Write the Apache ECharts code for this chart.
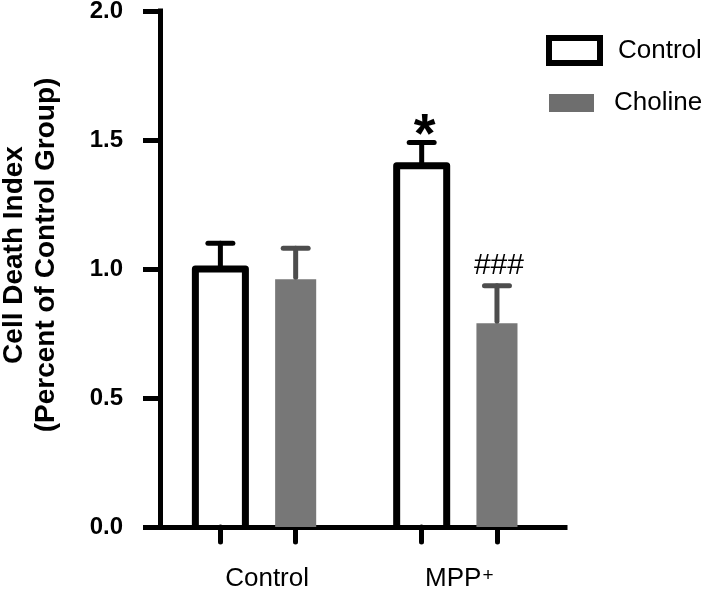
<!DOCTYPE html>
<html>
<head>
<meta charset="utf-8">
<script src="https://cdn.jsdelivr.net/npm/echarts@6/dist/echarts.min.js"></script>
<style>
html,body{margin:0;padding:0;background:#fff;}
#c{width:708px;height:590px;}
</style>
</head>
<body>
<div id="c"></div>
<script>
// ---- data ----
const groups = ['Control', 'MPP⁺'];
const controlValues = [1.00, 1.40];
const controlErrors = [0.10, 0.09];
const cholineValues = [0.96, 0.79];
const cholineErrors = [0.12, 0.145];
const controlMarks = ['', '*'];
const cholineMarks = ['', '###'];
const yTickValues = [0, 0.5, 1.0, 1.5, 2.0];

// ---- layout (axis units: 1 = distance between group centres) ----
const BAR_OFFSET = 0.187;
const CONTROL_BAR_W = 0.2485;
const CHOLINE_BAR_W = 0.204;
const CAP_W = 0.124;
const LABEL_NUDGE = [0.045, 0.0];
const FONT = "'Liberation Sans', Arial, Helvetica, sans-serif";

const xTickValues = [];
groups.forEach((g, i) => { xTickValues.push(i - BAR_OFFSET, i + BAR_OFFSET); });

function errorParts(x, yTop, yErr, capW, color) {
  return [
    { type: 'line', shape: { x1: x, y1: yTop, x2: x, y2: yErr },
      style: { stroke: color, lineWidth: 5, lineCap: 'round' } },
    { type: 'line', shape: { x1: x - capW / 2, y1: yErr, x2: x + capW / 2, y2: yErr },
      style: { stroke: color, lineWidth: 5, lineCap: 'round' } }
  ];
}

function renderControl(params, api) {
  const g = api.value(0), v = api.value(1), e = api.value(2);
  const px = g - BAR_OFFSET;
  const base = api.coord([px, 0]);
  const top = api.coord([px, v]);
  const err = api.coord([px, v + e]);
  const w = api.size([CONTROL_BAR_W, 0])[0];
  const capW = api.size([CAP_W, 0])[0];
  const x = top[0];
  const children = [
    { type: 'polyline',
      shape: { points: [[x - w / 2, base[1]], [x - w / 2, top[1]], [x + w / 2, top[1]], [x + w / 2, base[1]]] },
      style: { fill: null, stroke: '#000', lineWidth: 7, lineJoin: 'round' } }
  ].concat(errorParts(x, top[1] - 3, err[1], capW, '#000'));
  const mark = controlMarks[params.dataIndex];
  if (mark) {
    children.push({ type: 'text',
      style: { text: mark, x: x + 3, y: err[1] - 6, align: 'center', verticalAlign: 'middle',
               fontSize: 56, fontWeight: 'bold', fontFamily: FONT, fill: '#000' } });
  }
  return { type: 'group', children: children };
}

function renderCholine(params, api) {
  const g = api.value(0), v = api.value(1), e = api.value(2);
  const px = g + BAR_OFFSET;
  const base = api.coord([px, 0]);
  const top = api.coord([px, v]);
  const err = api.coord([px, v + e]);
  const w = api.size([CHOLINE_BAR_W, 0])[0];
  const capW = api.size([CAP_W, 0])[0];
  const x = top[0];
  const children = [
    { type: 'rect', shape: { x: x - w / 2, y: top[1], width: w, height: base[1] - top[1] },
      style: { fill: '#777777' } }
  ].concat(errorParts(x, top[1] - 2, err[1], capW, '#4d4d4d'));
  const mark = cholineMarks[params.dataIndex];
  if (mark) {
    children.push({ type: 'text',
      style: { text: mark, x: x + 2, y: err[1] - 20, align: 'center', verticalAlign: 'middle',
               fontSize: 30, fontFamily: FONT, fill: '#000' } });
  }
  return { type: 'group', children: children };
}

const chart = echarts.init(document.getElementById('c'), null, { renderer: 'canvas' });
chart.setOption({
  animation: false,
  backgroundColor: '#fff',
  grid: { left: 160, right: 143, top: 11, bottom: 63, containLabel: false, outerBoundsMode: 'none' },
  legend: [
    { data: [{ name: 'Control', icon: 'rect',
               itemStyle: { color: '#fff', borderColor: '#000', borderWidth: 6 } }],
      left: 546, top: 35, padding: 0, itemWidth: 51, itemHeight: 25, selectedMode: false,
      textStyle: { fontSize: 26, fontFamily: FONT, color: '#000', padding: [0, 0, 0, 13] } },
    { data: [{ name: 'Choline', icon: 'rect',
               itemStyle: { color: '#6e6e6e', borderWidth: 0 } }],
      left: 549, top: 90, padding: 0, itemWidth: 45, itemHeight: 18, selectedMode: false,
      textStyle: { fontSize: 26, fontFamily: FONT, color: '#000', padding: [0, 0, 0, 15] } }
  ],
  xAxis: {
    type: 'value', min: -0.487, max: 1.525,
    splitLine: { show: false },
    axisLine: { show: true, onZero: false, lineStyle: { color: '#000', width: 5, cap: 'square' } },
    axisTick: { show: true, customValues: xTickValues, length: 15,
                lineStyle: { color: '#000', width: 5, cap: 'round' } },
    axisLabel: { show: true, customValues: groups.map((g, i) => i + LABEL_NUDGE[i]), margin: 39,
                 formatter: v => {
                   const name = groups[Math.round(v)];
                   return name.endsWith('⁺') ? name.slice(0, -1) + '{sup|+}' : name;
                 },
                 fontSize: 26, fontFamily: FONT, color: '#000',
                 rich: { sup: { fontSize: 19, fontFamily: FONT, color: '#000', verticalAlign: 'top', padding: [0, 0, 6, 1] } } }
  },
  yAxis: {
    type: 'value', min: 0, max: 2, interval: 0.5,
    splitLine: { show: false },
    axisLine: { show: true, onZero: false, lineStyle: { color: '#000', width: 5, cap: 'square' } },
    axisTick: { show: true, customValues: yTickValues, length: 17, lineStyle: { color: '#000', width: 5 } },
    axisLabel: { show: true, customValues: yTickValues, margin: 37, formatter: v => v.toFixed(1),
                 fontSize: 24, fontWeight: 'bold', fontFamily: FONT, color: '#000' },
    name: 'Cell Death Index\n(Percent of Control Group)',
    nameLocation: 'middle', nameRotate: 90, nameGap: 98,
    nameTextStyle: { fontSize: 28, fontWeight: 'bold', fontFamily: FONT, color: '#000',
                     lineHeight: 32, padding: [0, 0, 0, 28] }
  },
  series: [
    { name: 'Control', type: 'custom', renderItem: renderControl, silent: true,
      itemStyle: { color: '#fff', borderColor: '#000', borderWidth: 6 },
      encode: { x: 0, y: 1 },
      data: groups.map((g, i) => [i, controlValues[i], controlErrors[i]]) },
    { name: 'Choline', type: 'custom', renderItem: renderCholine, silent: true,
      itemStyle: { color: '#777777' },
      encode: { x: 0, y: 1 },
      data: groups.map((g, i) => [i, cholineValues[i], cholineErrors[i]]) }
  ]
});
</script>
</body>
</html>
